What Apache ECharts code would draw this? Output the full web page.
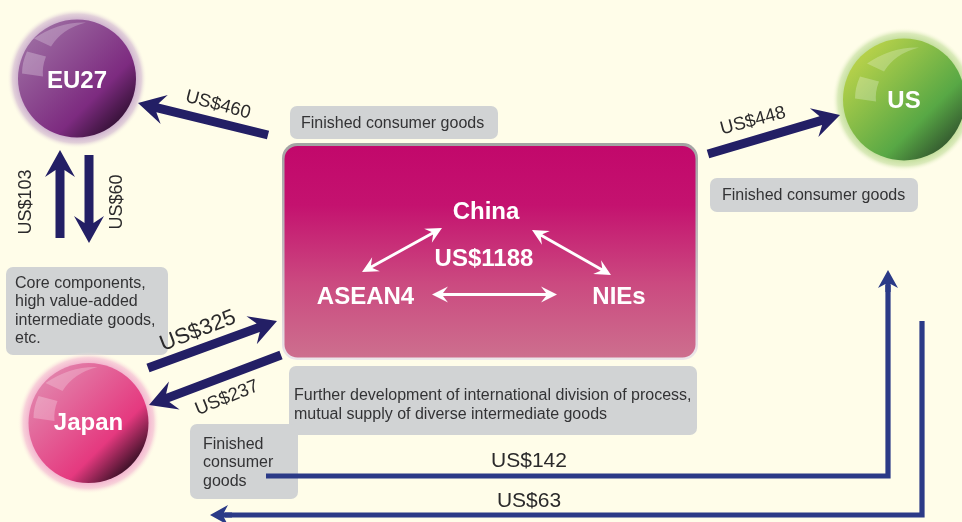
<!DOCTYPE html>
<html>
<head>
<meta charset="utf-8">
<title>Trade flows</title>
<style>
html,body{margin:0;padding:0;background:#fffde9;}
#main{width:962px;height:522px;}
</style>
<script src="https://cdn.jsdelivr.net/npm/echarts@6/dist/echarts.min.js"></script>
</head>
<body>
<div id="main"></div>
<script>
// values
var regionNames = ['EU27', 'Japan', 'US'];
var innerNames = ['China', 'ASEAN4', 'NIEs'];
var innerValue = 1188;
var flowValues = [460, 448, 103, 60, 325, 237];
var longFlowValues = [142, 63];
var boxTexts = [
	['Finished consumer goods'],
	['Finished consumer goods'],
	['Core components,', 'high value-added', 'intermediate goods,', 'etc.'],
	['Further development of international division of process,', 'mutual supply of diverse intermediate goods'],
	['Finished', 'consumer', 'goods']
];

// layout: x, y in picture pixels
var spherePos = [[77, 78.5, 59], [88.5, 423, 60], [904, 99.5, 61]];
var sphereGlow = ['#cfb3cf', '#f3b4cf', '#c3de9c'];
var sphereFade = ['rgba(207,179,207,0.6)', 'rgba(243,180,207,0.6)', 'rgba(195,222,156,0.6)'];
var sphereStops = [
	['#9a679f', '#7d2b80', '#2c0e2d'],
	['#e27fa9', '#e5397f', '#1e0a18'],
	['#b4d04a', '#58a845', '#2f4f2c']
];
var highlightShift = [[0, 0], [0, 0], [6, 4]];
var flowPos = [
	[268, 135, 138, 103], [708, 154, 840, 115], [60, 238, 60, 150],
	[89, 155, 89, 243], [148, 368, 277, 321], [281, 355, 149, 405]
];
var flowLabelPos = [
	[218, 105, -15, 18.5], [753, 121, 15, 18.5], [26, 202, 90, 18],
	[117, 202, 90, 18], [198, 331, 21, 22], [227, 398, 22, 18.5]
];
var longFlowPos = [
	[266, 476, 888, 476, 888, 270],
	[922, 321, 922, 515, 210, 515]
];
var longFlowLabelPos = [[529, 461], [529, 501]];
var boxPos = [
	[290, 106, 498, 139], [710, 178, 918, 212], [6, 267, 168, 355],
	[289, 366, 697, 435], [190, 424, 298, 499]
];
var boxTextPos = [[301, 124], [722, 196], [15, 283.5], [294, 395.5], [203, 444.5]];
var boxLineGap = [0, 0, 18.4, 19, 18.5];
var innerPos = [[486, 212], [365.5, 297], [619, 297]];
var innerValuePos = [484, 259];
var innerArrows = [[362, 272, 442, 228], [532, 230, 611, 275], [432, 294.5, 557, 294.5]];

var FONT = '"Liberation Sans", Arial, sans-serif';
var TEXT = '#2b2a2b';

function arrowPoints(a, b, w, len, half, notch) {
	var dx = b[0] - a[0], dy = b[1] - a[1];
	var d = Math.sqrt(dx * dx + dy * dy);
	var ux = dx / d, uy = dy / d, nx = -uy, ny = ux;
	function p(along, off) {
		return [a[0] + ux * along + nx * off, a[1] + uy * along + ny * off];
	}
	return [
		p(0, w / 2), p(d - len + notch, w / 2), p(d - len, half), p(d, 0),
		p(d - len, -half), p(d - len + notch, -w / 2), p(0, -w / 2)
	];
}

// same outline, with a head on both ends
function doubleArrowPoints(a, b, w, len, half, notch) {
	var dx = b[0] - a[0], dy = b[1] - a[1];
	var d = Math.sqrt(dx * dx + dy * dy);
	var ux = dx / d, uy = dy / d, nx = -uy, ny = ux;
	function p(along, off) {
		return [a[0] + ux * along + nx * off, a[1] + uy * along + ny * off];
	}
	return [
		p(0, 0), p(len, half), p(len - notch, w / 2), p(d - len + notch, w / 2), p(d - len, half), p(d, 0),
		p(d - len, -half), p(d - len + notch, -w / 2), p(len - notch, -w / 2), p(len, -half)
	];
}

function xy(api, i) {
	return api.coord([api.value(i), api.value(i + 1)]);
}

function renderPanel(params, api) {
	var a = xy(api, 0), b = xy(api, 2);
	return {
		type: 'group',
		children: [{
			type: 'rect',
			shape: { x: a[0], y: a[1], width: b[0] - a[0], height: b[1] - a[1], r: 15 },
			style: {
				fill: new echarts.graphic.LinearGradient(0, 0, 0, 1, [
					{ offset: 0, color: '#a3a3a3' }, { offset: 0.5, color: '#c4bcc0' }, { offset: 1, color: '#ece6ea' }
				])
			}
		}, {
			type: 'rect',
			shape: { x: a[0] + 2.5, y: a[1] + 3, width: b[0] - a[0] - 5, height: b[1] - a[1] - 5.5, r: 13 },
			style: {
				fill: new echarts.graphic.LinearGradient(0, 0, 0, 1, [
					{ offset: 0, color: '#c2086b' }, { offset: 0.28, color: '#c4126f' },
					{ offset: 0.65, color: '#cb4a80' }, { offset: 1, color: '#cd6f8e' }
				])
			}
		}]
	};
}

function renderBox(params, api) {
	var a = xy(api, 0), b = xy(api, 2);
	return {
		type: 'rect',
		shape: { x: a[0], y: a[1], width: b[0] - a[0], height: b[1] - a[1], r: 7 },
		style: { fill: '#d1d3d4' }
	};
}

function renderBoxText(params, api) {
	var i = params.dataIndex, a = xy(api, 0);
	return {
		type: 'group',
		children: boxTexts[i].map(function (line, k) {
			return {
				type: 'text',
				x: a[0],
				y: a[1] + k * boxLineGap[i],
				style: { text: line, fill: '#333335', font: '16px ' + FONT, align: 'left', verticalAlign: 'middle' }
			};
		})
	};
}

function renderSphere(params, api) {
	var i = params.dataIndex, c = xy(api, 0), r = api.value(2);
	var sx = c[0] + highlightShift[i][0], sy = c[1] + highlightShift[i][1];
	function pt(x, y) { return (sx + x) + ' ' + (sy + y); }
	return {
		type: 'group',
		children: [{
			type: 'circle',
			shape: { cx: c[0], cy: c[1], r: r + 11 },
			style: {
				fill: new echarts.graphic.RadialGradient(0.5, 0.5, 0.5, [
					{ offset: 0.84, color: sphereGlow[i] },
					{ offset: 0.92, color: sphereFade[i] },
					{ offset: 1, color: 'rgba(255,253,233,0)' }
				])
			}
		}, {
			type: 'circle',
			shape: { cx: c[0], cy: c[1], r: r },
			style: {
				fill: new echarts.graphic.LinearGradient(0.05, 0.05, 0.95, 0.95, [
					{ offset: 0.12, color: sphereStops[i][0] }, { offset: 0.67, color: sphereStops[i][1] },
					{ offset: 0.94, color: sphereStops[i][2] }
				])
			}
		}, {
			type: 'path',
			shape: { pathData: 'M' + pt(-43, -40) + 'Q' + pt(-18, -57) + ' ' + pt(9, -56) + 'Q' + pt(-15, -50) + ' ' + pt(-26, -32) + 'Z' },
			style: { fill: 'rgba(255,255,255,0.24)' }
		}, {
			type: 'path',
			shape: { pathData: 'M' + pt(-50, -27) + 'L' + pt(-31, -22) + 'Q' + pt(-35, -12) + ' ' + pt(-34, -2) + 'L' + pt(-55, -5) + 'Q' + pt(-55, -16) + ' ' + pt(-50, -27) + 'Z' },
			style: { fill: 'rgba(255,255,255,0.26)' }
		}, {
			type: 'text',
			x: c[0],
			y: c[1] + (i === 0 ? 3 : i === 2 ? 2 : 0.5),
			style: { text: regionNames[i], fill: '#fff', font: 'bold 24px ' + FONT, align: 'center', verticalAlign: 'middle' }
		}]
	};
}

function renderFlow(params, api) {
	var a = xy(api, 0), b = xy(api, 2);
	return {
		type: 'polygon',
		shape: { points: arrowPoints(a, b, 9, 27, 15, 7) },
		style: { fill: '#231f65' }
	};
}

function renderLongFlow(params, api) {
	var a = xy(api, 0), c = xy(api, 2), b = xy(api, 4);
	var dx = b[0] - c[0], dy = b[1] - c[1], d = Math.sqrt(dx * dx + dy * dy);
	var neck = [b[0] - dx / d * 15, b[1] - dy / d * 15];
	var headTail = [b[0] - dx / d * 22, b[1] - dy / d * 22];
	return {
		type: 'group',
		children: [{
			type: 'polyline',
			shape: { points: [a, c, neck] },
			style: { stroke: '#2b3a87', lineWidth: 5.2, fill: null, lineJoin: 'miter', lineCap: 'butt' }
		}, {
			type: 'polygon',
			shape: { points: arrowPoints(headTail, b, 5.2, 18, 10, 4) },
			style: { fill: '#2b3a87' }
		}]
	};
}

function renderInnerArrow(params, api) {
	var a = xy(api, 0), b = xy(api, 2);
	return {
		type: 'polygon',
		shape: { points: doubleArrowPoints(a, b, 3, 16, 8, 5) },
		style: { fill: '#fff' }
	};
}

function renderFlowLabel(params, api) {
	var a = xy(api, 0);
	return {
		type: 'text',
		x: a[0],
		y: a[1],
		rotation: api.value(2) * Math.PI / 180,
		style: {
			text: 'US$' + flowValues[params.dataIndex],
			fill: TEXT,
			font: api.value(3) + 'px ' + FONT,
			align: 'center',
			verticalAlign: 'middle'
		}
	};
}

function renderLongLabel(params, api) {
	var a = xy(api, 0);
	return {
		type: 'text',
		x: a[0],
		y: a[1],
		style: {
			text: 'US$' + longFlowValues[params.dataIndex],
			fill: TEXT,
			font: '21px ' + FONT,
			align: 'center',
			verticalAlign: 'middle'
		}
	};
}

function renderInnerText(params, api) {
	var a = xy(api, 0);
	var t = params.dataIndex < innerNames.length ? innerNames[params.dataIndex] : 'US$' + innerValue;
	return {
		type: 'text',
		x: a[0],
		y: a[1],
		style: { text: t, fill: '#fff', font: 'bold 24px ' + FONT, align: 'center', verticalAlign: 'middle' }
	};
}

function layer(name, render, data) {
	return { name: name, type: 'custom', renderItem: render, data: data, silent: true, animation: false, clip: false };
}

var chart = echarts.init(document.getElementById('main'));
var option = {
	backgroundColor: '#fffde9',
	animation: false,
	grid: { left: 0, right: 0, top: 0, bottom: 0 },
	xAxis: { type: 'value', min: 0, max: 962, show: false },
	yAxis: { type: 'value', min: 0, max: 522, inverse: true, show: false },
	tooltip: { show: false },
	series: [
		layer('boxes', renderBox, boxPos),
		layer('panel', renderPanel, [[282, 143, 698, 360]]),
		layer('boxText', renderBoxText, boxTextPos),
		layer('spheres', renderSphere, spherePos),
		layer('flows', renderFlow, flowPos),
		layer('longFlows', renderLongFlow, longFlowPos),
		layer('innerArrows', renderInnerArrow, innerArrows),
		layer('flowLabels', renderFlowLabel, flowLabelPos),
		layer('longLabels', renderLongLabel, longFlowLabelPos),
		layer('innerText', renderInnerText, innerPos.concat([innerValuePos]))
	]
};
chart.setOption(option);
</script>
</body>
</html>
